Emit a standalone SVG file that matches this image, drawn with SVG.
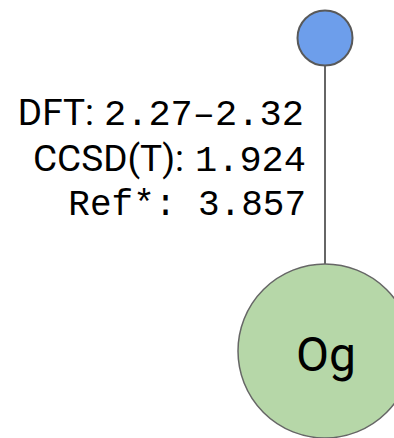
<svg xmlns="http://www.w3.org/2000/svg" width="394" height="438" viewBox="0 0 394 438">
  <style>
    .edge { stroke: #666666; stroke-width: 2; fill: none; }
    .sans { font-family: Roboto, "Liberation Sans", sans-serif; fill: #000000; font-size: 37px; }
    .mono { font-family: "Liberation Mono", "DejaVu Sans Mono", monospace; fill: #000000; font-size: 37px; }
    .end { text-anchor: end; }
  </style>
  <rect width="394" height="438" fill="#ffffff"/>
  <g id="connectors">
    <line class="edge" x1="325" y1="65" x2="325" y2="264"/>
  </g>
  <g id="node-top">
    <circle cx="325" cy="38" r="27.5" fill="#6d9eeb" stroke="#595959" stroke-width="2"/>
  </g>
  <g id="node-og">
    <circle cx="325" cy="351" r="87" fill="#b6d7a8" stroke="#666666" stroke-width="1.5"/>
    <text class="sans" x="326" y="371" font-size="48" text-anchor="middle" style="font-size:48px">Og</text>
  </g>
  <g id="bond-label">
    <text class="sans end" x="94" y="125">DFT:</text>
    <text class="mono" x="104" y="125">2.27–2.32</text>
    <text class="sans end" x="184" y="171">CCSD(T):</text>
    <text class="mono" x="195" y="171">1.924</text>
    <text class="mono end" x="306" y="215" style="font-size:36px">Ref*: 3.857</text>
  </g>
</svg>
